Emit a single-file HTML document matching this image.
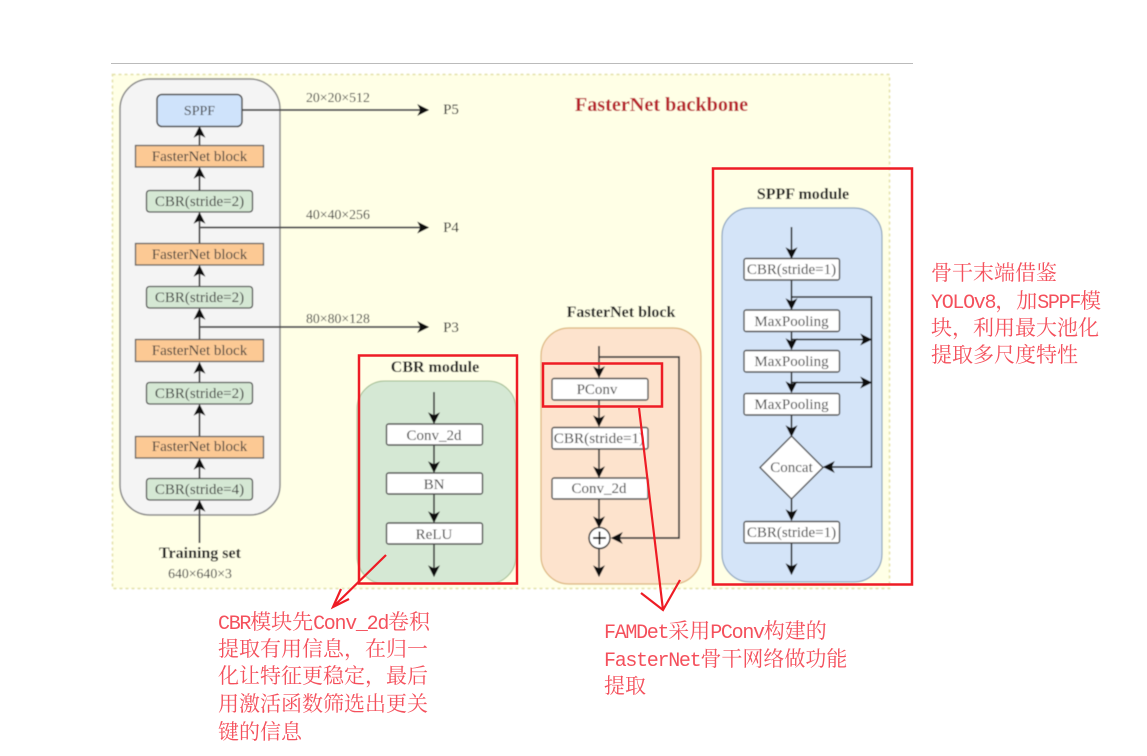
<!DOCTYPE html>
<html><head><meta charset="utf-8">
<style>
html,body{margin:0;padding:0;background:#fff;width:1147px;height:756px;overflow:hidden}
svg{display:block}
.l{font-family:"Liberation Serif","Noto Serif CJK SC",serif;fill:#3a3a3a;text-anchor:middle;font-size:15px}
.b{font-family:"Liberation Serif",serif;fill:#1c1c1c;text-anchor:middle;font-weight:bold;font-size:16px}
.s{font-family:"Liberation Serif",serif;fill:#3a3a3a;font-size:13.8px}
.p{font-family:"Liberation Serif",serif;fill:#222;text-anchor:middle;font-size:15px}
.w{fill:#fff;stroke:#4a4a4a;stroke-width:1.400}
.c{stroke:#222;stroke-width:1.500;fill:none}
.g{stroke:#555;stroke-width:2;fill:none}
.r{font-family:"Noto Serif CJK SC","Liberation Serif",serif;font-size:21px;fill:#f4505c}
.m{font-family:"Liberation Mono",monospace;font-size:20px;letter-spacing:-1.300px}
</style></head>
<body>
<svg width="1147" height="756" viewBox="0 0 1147 756" xmlns="http://www.w3.org/2000/svg">
<defs>
<filter id="bl" x="-2%" y="-2%" width="104%" height="104%"><feGaussianBlur stdDeviation="0.5"/></filter>
<marker id="a" viewBox="0 0 10 10" refX="9" refY="5" markerWidth="12" markerHeight="12" markerUnits="userSpaceOnUse" orient="auto"><path d="M0 0L10 5L0 10L2.500 5Z" fill="#0c0c0c"/></marker>
</defs>
<line x1="111" y1="63.500" x2="913" y2="63.500" stroke="#bbb" stroke-width="1"/>
<g filter="url(#bl)">
<rect x="112.500" y="74.500" width="777" height="514" fill="#ffffe6" stroke="#e3e0a8" stroke-width="1.500" stroke-dasharray="3 3"/>
<text x="661.500" y="111" text-anchor="middle" font-family="Liberation Serif,serif" font-weight="bold" font-size="20.200" fill="#b8202c">FasterNet backbone</text>

<rect x="120" y="79" width="160" height="436" rx="30" fill="#f4f4f4" stroke="#888" stroke-width="1.500"/>
<g class="g">
<line x1="199.500" y1="543" x2="199.500" y2="501" marker-end="url(#a)"/>
<line x1="199.500" y1="478" x2="199.500" y2="459" marker-end="url(#a)"/>
<line x1="199.500" y1="436" x2="199.500" y2="405" marker-end="url(#a)"/>
<line x1="199.500" y1="382" x2="199.500" y2="363" marker-end="url(#a)"/>
<line x1="199.500" y1="339" x2="199.500" y2="309" marker-end="url(#a)"/>
<line x1="199.500" y1="286" x2="199.500" y2="266" marker-end="url(#a)"/>
<line x1="199.500" y1="243" x2="199.500" y2="213" marker-end="url(#a)"/>
<line x1="199.500" y1="190" x2="199.500" y2="168" marker-end="url(#a)"/>
<line x1="199.500" y1="145" x2="199.500" y2="127" marker-end="url(#a)"/>
<line x1="242" y1="110" x2="428" y2="110" marker-end="url(#a)"/>
<line x1="199.500" y1="227.500" x2="428" y2="227.500" marker-end="url(#a)"/>
<line x1="199.500" y1="327" x2="428" y2="327" marker-end="url(#a)"/>
</g>
<rect x="157" y="94.500" width="85" height="32" rx="5" fill="#cfe3fb" stroke="#4a4a4a" stroke-width="1.500"/>
<text class="l" x="199.500" y="115" style="font-size:14px">SPPF</text>
<g fill="#fcc994" stroke="#5a5a5a" stroke-width="1.300">
<rect x="135.500" y="145.500" width="128" height="21.500"/>
<rect x="135.500" y="243.500" width="128" height="21.500"/>
<rect x="135.500" y="339.500" width="128" height="22"/>
<rect x="135.500" y="436.500" width="128" height="21.500"/>
</g>
<g fill="#d5e8d4" stroke="#4a4a4a" stroke-width="1.300">
<rect x="146.500" y="190.500" width="106" height="21.500" rx="3"/>
<rect x="146.500" y="286.500" width="106" height="21.500" rx="3"/>
<rect x="146.500" y="382.500" width="106" height="21.500" rx="3"/>
<rect x="146.500" y="478.500" width="106" height="21.500" rx="3"/>
</g>
<text class="l" x="199.500" y="161">FasterNet block</text>
<text class="l" x="199.500" y="206">CBR(stride=2)</text>
<text class="l" x="199.500" y="259">FasterNet block</text>
<text class="l" x="199.500" y="302">CBR(stride=2)</text>
<text class="l" x="199.500" y="355">FasterNet block</text>
<text class="l" x="199.500" y="398">CBR(stride=2)</text>
<text class="l" x="199.500" y="451">FasterNet block</text>
<text class="l" x="199.500" y="494">CBR(stride=4)</text>
<text class="b" x="200" y="558">Training set</text>
<text class="l" x="200" y="578" style="font-size:13.800px">640×640×3</text>
<text class="s" x="306" y="102">20×20×512</text>
<text class="s" x="306" y="219">40×40×256</text>
<text class="s" x="306" y="323">80×80×128</text>
<text class="p" x="451" y="114">P5</text>
<text class="p" x="451" y="232">P4</text>
<text class="p" x="451" y="332">P3</text>

<!-- CBR module -->
<text class="b" x="435" y="372">CBR module</text>
<rect x="357" y="381" width="159" height="203" rx="28" fill="#d5e8d4" stroke="#9db98a" stroke-width="1"/>
<g class="c">
<line x1="434" y1="392" x2="434" y2="423" marker-end="url(#a)"/>
<line x1="434" y1="445" x2="434" y2="472" marker-end="url(#a)"/>
<line x1="434" y1="494" x2="434" y2="522" marker-end="url(#a)"/>
<line x1="434" y1="544" x2="434" y2="576" marker-end="url(#a)"/>
</g>
<rect class="w" x="386.500" y="424" width="96" height="21" rx="2"/>
<rect class="w" x="386.500" y="473" width="96" height="21" rx="2"/>
<rect class="w" x="386.500" y="523" width="96" height="21" rx="2"/>
<text class="l" x="434" y="440">Conv_2d</text>
<text class="l" x="434" y="489">BN</text>
<text class="l" x="434" y="539">ReLU</text>

<!-- FasterNet block -->
<text class="b" x="621" y="317">FasterNet block</text>
<rect x="541" y="328" width="160" height="256" rx="28" fill="#fde3cd" stroke="#dcb578" stroke-width="1.200"/>
<g class="g" style="stroke:#3a3a3a;stroke-width:1.700">
<line x1="599" y1="346" x2="599" y2="377" marker-end="url(#a)"/>
<line x1="599" y1="400" x2="599" y2="426" marker-end="url(#a)"/>
<line x1="599" y1="449" x2="599" y2="477" marker-end="url(#a)"/>
<line x1="599" y1="499" x2="599" y2="527" marker-end="url(#a)"/>
<line x1="599" y1="549" x2="599" y2="576" marker-end="url(#a)"/>
<path d="M599 357H679V538H612" marker-end="url(#a)"/>
</g>
<rect class="w" x="552" y="378.500" width="96" height="21.500" rx="2"/>
<rect class="w" x="552" y="427.500" width="96" height="21.500" rx="2"/>
<rect class="w" x="552" y="478" width="96" height="21" rx="2"/>
<text class="l" x="597" y="394">PConv</text>
<text class="l" x="599" y="443" style="font-size:15.200px">CBR(stride=1)</text>
<text class="l" x="599" y="493">Conv_2d</text>
<circle cx="599.500" cy="538" r="10.500" fill="#fff" stroke="#333" stroke-width="1.500"/>
<path d="M593 538H606M599.500 531.500V544.500" stroke="#111" stroke-width="1.700"/>

<!-- SPPF module -->
<text class="b" x="803" y="199">SPPF module</text>
<rect x="722" y="208" width="160" height="374" rx="28" fill="#d4e4f8" stroke="#8ca4be" stroke-width="1.200"/>
<g class="c" style="stroke:#111">
<line x1="791.500" y1="227" x2="791.500" y2="258" marker-end="url(#a)"/>
<line x1="791.500" y1="280" x2="791.500" y2="309" marker-end="url(#a)"/>
<line x1="791.500" y1="331" x2="791.500" y2="349" marker-end="url(#a)"/>
<line x1="791.500" y1="372" x2="791.500" y2="392" marker-end="url(#a)"/>
<line x1="791.500" y1="415" x2="791.500" y2="436" marker-end="url(#a)"/>
<line x1="791.500" y1="499" x2="791.500" y2="520" marker-end="url(#a)"/>
<line x1="791.500" y1="543" x2="791.500" y2="574" marker-end="url(#a)"/>
<path d="M791.500 297H871.500V467H824" marker-end="url(#a)"/>
<line x1="791.500" y1="339.500" x2="871" y2="339.500" marker-end="url(#a)"/>
<line x1="791.500" y1="382.500" x2="871" y2="382.500" marker-end="url(#a)"/>
</g>
<rect class="w" x="744" y="258.500" width="95.500" height="21.500" rx="2"/>
<rect class="w" x="744" y="310" width="95.500" height="21.500" rx="2"/>
<rect class="w" x="744" y="350.500" width="95.500" height="21.500" rx="2"/>
<rect class="w" x="744" y="393.500" width="95.500" height="21.500" rx="2"/>
<rect class="w" x="744" y="521.500" width="95.500" height="21.500" rx="2"/>
<path d="M791.500 436L823 467.500L791.500 499L760 467.500Z" class="w"/>
<text class="l" x="791.500" y="274">CBR(stride=1)</text>
<text class="l" x="791.500" y="326">MaxPooling</text>
<text class="l" x="791.500" y="366">MaxPooling</text>
<text class="l" x="791.500" y="409">MaxPooling</text>
<text class="l" x="791.500" y="472">Concat</text>
<text class="l" x="791.500" y="537">CBR(stride=1)</text>
</g>

<!-- red annotations -->
<g fill="none" stroke="#ee1c25" stroke-width="2.500">
<rect x="359" y="355.500" width="158" height="228"/>
<rect x="543" y="363.500" width="119" height="43"/>
<rect x="713" y="168.500" width="199" height="416"/>
<path d="M386 555L333 607M341 589L333 607L349 599" stroke-width="2.200"/>
<path d="M639 408L663 610M641 593L663 610L680 580" stroke-width="2.200"/>
</g>
<g class="r">
<text x="218" y="629"><tspan class="m">CBR</tspan>模块先<tspan class="m">Conv_2d</tspan>卷积</text>
<text x="218" y="656">提取有用信息，在归一</text>
<text x="218" y="683">化让特征更稳定，最后</text>
<text x="218" y="711">用激活函数筛选出更关</text>
<text x="218" y="739">键的信息</text>
<text x="604" y="638"><tspan class="m">FAMDet</tspan>采用<tspan class="m">PConv</tspan>构建的</text>
<text x="604" y="666"><tspan class="m">FasterNet</tspan>骨干网络做功能</text>
<text x="604" y="693">提取</text>
<text x="931" y="280">骨干末端借鉴</text>
<text x="931" y="308"><tspan class="m">YOLOv8</tspan>，加<tspan class="m">SPPF</tspan>模</text>
<text x="931" y="335">块，利用最大池化</text>
<text x="931" y="362">提取多尺度特性</text>
</g>
</svg>
</body></html>
